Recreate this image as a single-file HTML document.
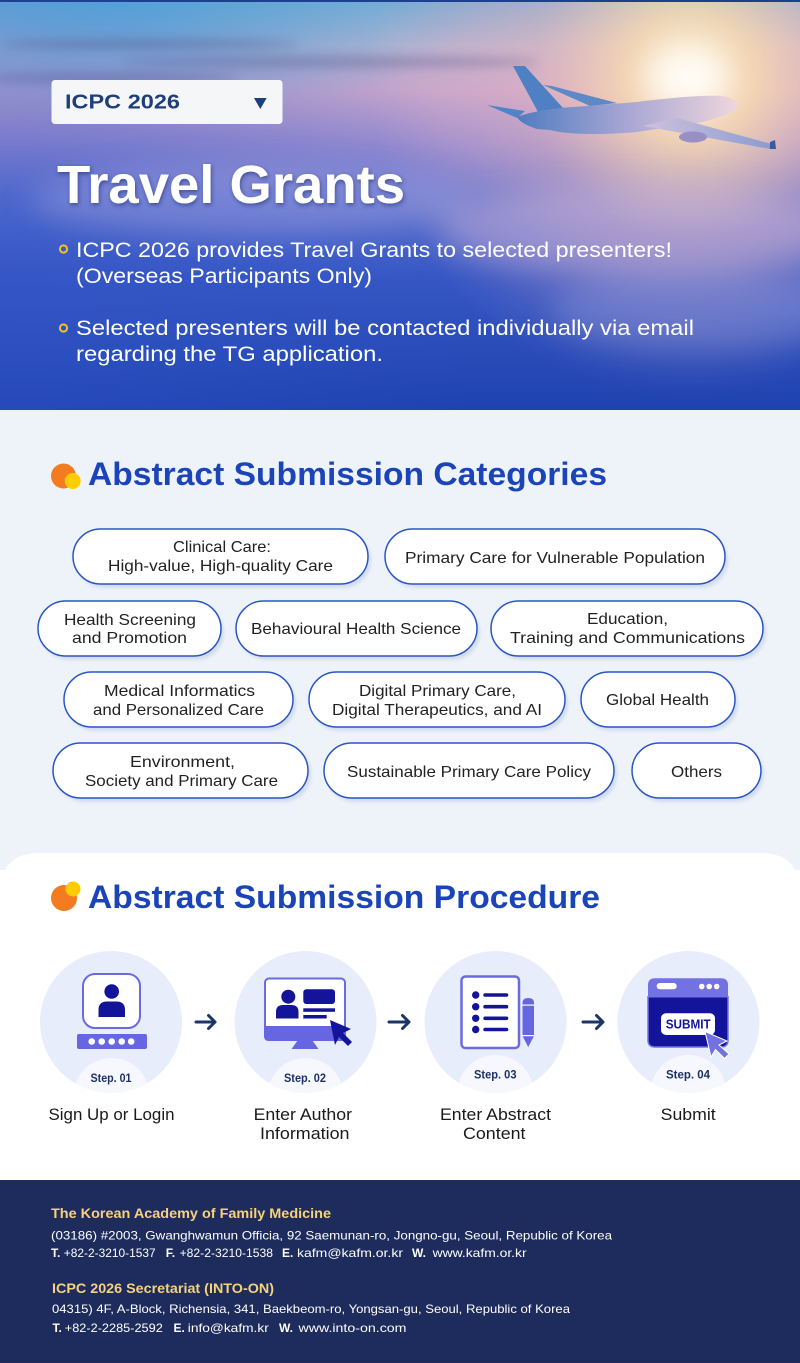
<!DOCTYPE html>
<html><head><meta charset="utf-8">
<style>
html,body{margin:0;padding:0;background:#fff;}
svg{display:block;}
text{font-family:"Liberation Sans",sans-serif;}
</style></head><body>
<svg width="800" height="1363" viewBox="0 0 800 1363" xmlns="http://www.w3.org/2000/svg">
<defs>
 <linearGradient id="sky" x1="0" y1="0" x2="0" y2="1">
  <stop offset="0" stop-color="#7aaad2"/>
  <stop offset="0.11" stop-color="#b4b2d0"/>
  <stop offset="0.22" stop-color="#c6a6cc"/>
  <stop offset="0.34" stop-color="#9c8fd0"/>
  <stop offset="0.48" stop-color="#6074cf"/>
  <stop offset="0.68" stop-color="#3557c4"/>
  <stop offset="1" stop-color="#1e42b0"/>
 </linearGradient>
 <radialGradient id="sun" cx="690" cy="78" r="320" gradientUnits="userSpaceOnUse">
  <stop offset="0" stop-color="#fff7e0" stop-opacity="1"/>
  <stop offset="0.2" stop-color="#fcdcb0" stop-opacity="0.85"/>
  <stop offset="0.5" stop-color="#f2b8b8" stop-opacity="0.4"/>
  <stop offset="1" stop-color="#e0a8c8" stop-opacity="0"/>
 </radialGradient>
 <radialGradient id="cyan" cx="120" cy="0" r="360" gradientUnits="userSpaceOnUse" gradientTransform="translate(0,0) scale(1,0.35)">
  <stop offset="0" stop-color="#4fb2de" stop-opacity="0.75"/>
  <stop offset="1" stop-color="#4fb2de" stop-opacity="0"/>
 </radialGradient>
 <radialGradient id="leftblue" cx="0" cy="300" r="480" gradientUnits="userSpaceOnUse">
  <stop offset="0" stop-color="#3254c8" stop-opacity="0.5"/>
  <stop offset="1" stop-color="#3254c8" stop-opacity="0"/>
 </radialGradient>
 <linearGradient id="fus" x1="517" y1="0" x2="737" y2="0" gradientUnits="userSpaceOnUse">
  <stop offset="0" stop-color="#4f7cc0"/>
  <stop offset="0.5" stop-color="#a8a6d4"/>
  <stop offset="1" stop-color="#eed6dc"/>
 </linearGradient>
 <linearGradient id="wing" x1="643" y1="0" x2="775" y2="0" gradientUnits="userSpaceOnUse">
  <stop offset="0" stop-color="#cfc2dc"/>
  <stop offset="1" stop-color="#8a9ad2"/>
 </linearGradient>
 <filter id="blur6" x="-50%" y="-200%" width="200%" height="500%"><feGaussianBlur stdDeviation="5"/></filter>
 <filter id="blur12" x="-50%" y="-100%" width="200%" height="300%"><feGaussianBlur stdDeviation="14"/></filter>
 <filter id="sh" x="-10%" y="-30%" width="120%" height="160%"><feGaussianBlur stdDeviation="1.5"/></filter>
 <filter id="tsh" x="-10%" y="-20%" width="120%" height="150%">
  <feDropShadow dx="1" dy="2" stdDeviation="2" flood-color="#1a2a70" flood-opacity="0.6"/>
 </filter>
 <clipPath id="hero"><rect x="0" y="0" width="800" height="410"/></clipPath>
 <clipPath id="c1"><circle cx="111" cy="1022" r="71"/></clipPath>
 <clipPath id="c2"><circle cx="305.5" cy="1022" r="71"/></clipPath>
 <clipPath id="c3"><circle cx="495.5" cy="1022" r="71"/></clipPath>
 <clipPath id="c4"><circle cx="688.5" cy="1022" r="71"/></clipPath>
</defs>

<!-- HERO -->
<g clip-path="url(#hero)">
<rect x="0" y="0" width="800" height="410" fill="url(#sky)"/>
<rect x="0" y="0" width="800" height="410" fill="url(#cyan)"/>
<rect x="0" y="0" width="800" height="410" fill="url(#leftblue)"/>
<rect x="0" y="0" width="800" height="410" fill="url(#sun)"/>
<g filter="url(#blur6)" opacity="0.35">
 <ellipse cx="150" cy="44" rx="150" ry="5" fill="#4f4c80"/>
 <ellipse cx="330" cy="62" rx="210" ry="6" fill="#5a5488"/>
 <ellipse cx="110" cy="78" rx="130" ry="5" fill="#4f4c80"/>
</g>
<g filter="url(#blur12)">
 <ellipse cx="640" cy="230" rx="200" ry="45" fill="#e0c0e0" opacity="0.35"/>
 <ellipse cx="250" cy="200" rx="220" ry="35" fill="#c8b8e8" opacity="0.3"/>
 <ellipse cx="700" cy="310" rx="150" ry="40" fill="#b0b8ea" opacity="0.25"/>
 <ellipse cx="687" cy="77" rx="40" ry="30" fill="#ffffff" opacity="0.7"/>
</g>
</g>
<rect x="0" y="0" width="800" height="2" fill="#1d3f8f"/>

<!-- plane -->
<path d="M543,85 L552,86 L617,103 L590,106 Z" fill="#5f88c6"/>
<path d="M513,66 L525,66 L563,108 L538,112 Z" fill="#4f80c4"/>
<path d="M487,105 L525,111 L517,118 Z" fill="#5084c8"/>
<path d="M517,117 C530,112 545,110 560,108 L637,102 C670,98 700,95 722,96 C732,97 738,102 737,107 C735,112 728,115 703,122 L637,132 C600,135 570,135 550,130 L537,129 C525,125 519,121 517,117 Z" fill="url(#fus)"/>
<path d="M643,126 L677,118 L775,145 L770,149 Z" fill="url(#wing)"/>
<ellipse cx="693" cy="137" rx="14" ry="5.5" fill="#9890c4"/>
<path d="M770,142 L775,140 L776,149 L770,149 Z" fill="#3a5aa0"/>

<!-- dropdown -->
<rect x="51.5" y="80" width="231" height="44" rx="3.5" fill="#f5f6f8"/>
<text x="65" y="108.5" font-size="20" font-weight="bold" fill="#1f3f7a" textLength="115" lengthAdjust="spacingAndGlyphs">ICPC 2026</text>
<polygon points="254,98 266.7,98 260.3,109" fill="#1f3f7a"/>

<!-- title -->
<text x="57" y="203" font-size="54" font-weight="bold" fill="#ffffff" filter="url(#tsh)" textLength="348" lengthAdjust="spacingAndGlyphs">Travel Grants</text>

<!-- bullets -->
<circle cx="63.5" cy="249" r="3.6" fill="none" stroke="#f3c320" stroke-width="2"/>
<circle cx="63.5" cy="328" r="3.6" fill="none" stroke="#f3c320" stroke-width="2"/>
<g fill="#ffffff" font-size="21">
 <text x="76" y="257" textLength="596" lengthAdjust="spacingAndGlyphs">ICPC 2026 provides Travel Grants to selected presenters!</text>
 <text x="76" y="283" textLength="296" lengthAdjust="spacingAndGlyphs">(Overseas Participants Only)</text>
 <text x="76" y="335" textLength="618" lengthAdjust="spacingAndGlyphs">Selected presenters will be contacted individually via email</text>
 <text x="76" y="361" textLength="307" lengthAdjust="spacingAndGlyphs">regarding the TG application.</text>
</g>

<!-- CATEGORIES SECTION -->
<rect x="0" y="410" width="800" height="460" fill="#eef3fa"/>
<circle cx="63.5" cy="476" r="12.5" fill="#f47b20"/>
<circle cx="72.7" cy="481" r="8" fill="#ffcc00"/>
<text x="88" y="485" font-size="32" font-weight="bold" fill="#1b44b8" textLength="519" lengthAdjust="spacingAndGlyphs">Abstract Submission Categories</text>

<!-- pill shadows -->
<g fill="#d3ddee" filter="url(#sh)">
 <rect x="76" y="533" width="295" height="55" rx="27.5"/>
 <rect x="388" y="533" width="340" height="55" rx="27.5"/>
 <rect x="41" y="605" width="183" height="55" rx="27.5"/>
 <rect x="239" y="605" width="241" height="55" rx="27.5"/>
 <rect x="494" y="605" width="272" height="55" rx="27.5"/>
 <rect x="67" y="676" width="229" height="55" rx="27.5"/>
 <rect x="312" y="676" width="256" height="55" rx="27.5"/>
 <rect x="584" y="676" width="154" height="55" rx="27.5"/>
 <rect x="56" y="747" width="255" height="55" rx="27.5"/>
 <rect x="327" y="747" width="290" height="55" rx="27.5"/>
 <rect x="635" y="747" width="129" height="55" rx="27.5"/>
</g>
<g fill="#ffffff" stroke="#2a55c8" stroke-width="1.5">
 <rect x="73" y="529" width="295" height="55" rx="27.5"/>
 <rect x="385" y="529" width="340" height="55" rx="27.5"/>
 <rect x="38" y="601" width="183" height="55" rx="27.5"/>
 <rect x="236" y="601" width="241" height="55" rx="27.5"/>
 <rect x="491" y="601" width="272" height="55" rx="27.5"/>
 <rect x="64" y="672" width="229" height="55" rx="27.5"/>
 <rect x="309" y="672" width="256" height="55" rx="27.5"/>
 <rect x="581" y="672" width="154" height="55" rx="27.5"/>
 <rect x="53" y="743" width="255" height="55" rx="27.5"/>
 <rect x="324" y="743" width="290" height="55" rx="27.5"/>
 <rect x="632" y="743" width="129" height="55" rx="27.5"/>
</g>
<g fill="#222222" font-size="16">
 <text x="173" y="552" textLength="98" lengthAdjust="spacingAndGlyphs">Clinical Care:</text>
 <text x="108" y="571" textLength="225" lengthAdjust="spacingAndGlyphs">High-value, High-quality Care</text>
 <text x="405" y="563" textLength="300" lengthAdjust="spacingAndGlyphs">Primary Care for Vulnerable Population</text>
 <text x="64" y="625" textLength="132" lengthAdjust="spacingAndGlyphs">Health Screening</text>
 <text x="72" y="643" textLength="115" lengthAdjust="spacingAndGlyphs">and Promotion</text>
 <text x="251" y="634" textLength="210" lengthAdjust="spacingAndGlyphs">Behavioural Health Science</text>
 <text x="587" y="624" textLength="81" lengthAdjust="spacingAndGlyphs">Education,</text>
 <text x="510" y="643" textLength="235" lengthAdjust="spacingAndGlyphs">Training and Communications</text>
 <text x="104" y="696" textLength="151" lengthAdjust="spacingAndGlyphs">Medical Informatics</text>
 <text x="93" y="715" textLength="171" lengthAdjust="spacingAndGlyphs">and Personalized Care</text>
 <text x="359" y="696" textLength="157" lengthAdjust="spacingAndGlyphs">Digital Primary Care,</text>
 <text x="332" y="715" textLength="210" lengthAdjust="spacingAndGlyphs">Digital Therapeutics, and AI</text>
 <text x="606" y="705" textLength="103" lengthAdjust="spacingAndGlyphs">Global Health</text>
 <text x="130" y="767" textLength="105" lengthAdjust="spacingAndGlyphs">Environment,</text>
 <text x="85" y="786" textLength="193" lengthAdjust="spacingAndGlyphs">Society and Primary Care</text>
 <text x="347" y="777" textLength="244" lengthAdjust="spacingAndGlyphs">Sustainable Primary Care Policy</text>
 <text x="671" y="777" textLength="51" lengthAdjust="spacingAndGlyphs">Others</text>
</g>

<!-- PROCEDURE SECTION -->
<path d="M0,893 Q0,853 40,853 L760,853 Q800,853 800,893 L800,1180 L0,1180 Z" fill="#ffffff"/>
<circle cx="64" cy="898" r="13" fill="#f47b20"/>
<circle cx="73" cy="889" r="7.5" fill="#ffcc00"/>
<text x="88" y="908" font-size="32" font-weight="bold" fill="#1b44b8" textLength="512" lengthAdjust="spacingAndGlyphs">Abstract Submission Procedure</text>

<!-- circles -->
<g fill="#e7edfb">
 <circle cx="111" cy="1022" r="71"/>
 <circle cx="305.5" cy="1022" r="71"/>
 <circle cx="495.5" cy="1022" r="71"/>
 <circle cx="688.5" cy="1022" r="71"/>
</g>
<g fill="#f6f8fe">
 <circle cx="111.5" cy="1096" r="38" clip-path="url(#c1)"/>
 <circle cx="305.5" cy="1096" r="38" clip-path="url(#c2)"/>
 <circle cx="495.5" cy="1093" r="38" clip-path="url(#c3)"/>
 <circle cx="688.5" cy="1093" r="38" clip-path="url(#c4)"/>
</g>
<g font-size="12" font-weight="bold" fill="#1e3066">
 <text x="90.5" y="1082" textLength="41" lengthAdjust="spacingAndGlyphs">Step. 01</text>
 <text x="284" y="1082" textLength="42" lengthAdjust="spacingAndGlyphs">Step. 02</text>
 <text x="474" y="1078.5" textLength="42.5" lengthAdjust="spacingAndGlyphs">Step. 03</text>
 <text x="666" y="1078.5" textLength="44" lengthAdjust="spacingAndGlyphs">Step. 04</text>
</g>

<!-- arrows -->
<g stroke="#1d3566" stroke-width="3" fill="none" stroke-linecap="round" stroke-linejoin="round">
 <path d="M196,1022 H215 M208.5,1015.5 L215,1022 L208.5,1028.5"/>
 <path d="M389,1022 H409 M402.5,1015.5 L409,1022 L402.5,1028.5"/>
 <path d="M583,1022 H603 M596.5,1015.5 L603,1022 L596.5,1028.5"/>
</g>

<!-- icon 1 -->
<rect x="83" y="974" width="57" height="54" rx="12" fill="#ffffff" stroke="#6b6be0" stroke-width="2"/>
<circle cx="111.7" cy="991.5" r="7.3" fill="#14149a"/>
<path d="M98.5,1017 L98.5,1010 Q98.5,1001.5 107,1001.5 L116.5,1001.5 Q125,1001.5 125,1010 L125,1017 Z" fill="#14149a"/>
<rect x="77" y="1034" width="70" height="15" rx="2" fill="#6666e0"/>
<g fill="#ffffff">
 <circle cx="91.7" cy="1041.5" r="3.3"/>
 <circle cx="101.7" cy="1041.5" r="3.3"/>
 <circle cx="111.7" cy="1041.5" r="3.3"/>
 <circle cx="121.7" cy="1041.5" r="3.3"/>
 <circle cx="131.2" cy="1041.5" r="3.3"/>
</g>

<!-- icon 2 -->
<rect x="265" y="978.5" width="80" height="61.5" rx="4" fill="#ffffff" stroke="#6b6be0" stroke-width="2"/>
<path d="M264,1026 H346 V1036 Q346,1041 341,1041 H269 Q264,1041 264,1036 Z" fill="#6666e0"/>
<path d="M298,1040 H312 L318.5,1049 H291.5 Z" fill="#6666e0"/>
<circle cx="288.3" cy="996.7" r="7" fill="#14149a"/>
<path d="M276,1018.5 V1012 Q276,1005 283,1005 H291.5 Q298.5,1005 298.5,1012 V1018.5 Z" fill="#14149a"/>
<rect x="303.3" y="989.3" width="31.7" height="14.7" rx="3" fill="#14149a"/>
<rect x="303.3" y="1008.3" width="31.7" height="3.5" fill="#14149a"/>
<rect x="303.3" y="1015" width="23.4" height="3.5" fill="#14149a"/>
<path d="M330,1020 L351,1029 L343,1033 L352,1042 L348,1046 L339,1037 L335,1045 Z" fill="#14149a"/>

<!-- icon 3 -->
<rect x="461.5" y="976.5" width="57.5" height="71.5" rx="4" fill="#ffffff" stroke="#6b6be0" stroke-width="2.5"/>
<g fill="#14149a">
 <circle cx="475.7" cy="995" r="3.7"/>
 <circle cx="475.7" cy="1006.7" r="3.7"/>
 <circle cx="475.7" cy="1018.3" r="3.7"/>
 <circle cx="475.7" cy="1029.5" r="3.7"/>
 <rect x="483.3" y="993.2" width="25" height="3.6" rx="1.8"/>
 <rect x="483.3" y="1004.9" width="25" height="3.6" rx="1.8"/>
 <rect x="483.3" y="1016.5" width="25" height="3.6" rx="1.8"/>
 <rect x="483.3" y="1027.7" width="25" height="3.6" rx="1.8"/>
</g>
<path d="M522.5,1003 Q522.5,998 528.2,998 Q534,998 534,1003 V1036 L528.2,1047 L522.5,1036 Z" fill="#6666e0"/>
<rect x="522.5" y="1004.5" width="11.5" height="1.2" fill="#ffffff"/>
<rect x="522.5" y="1035" width="11.5" height="1.2" fill="#ffffff"/>

<!-- icon 4 -->
<path d="M648,996.7 V985 Q648,978.3 655,978.3 H721 Q728,978.3 728,985 V996.7 Z" fill="#7272e2"/>
<path d="M648,996.7 H728 V1040 Q728,1047 721,1047 H655 Q648,1047 648,1040 Z" fill="#14149a" stroke="#7272e2" stroke-width="1.5"/>
<rect x="656.7" y="983" width="20" height="6.3" rx="3" fill="#ffffff"/>
<g fill="#ffffff">
 <circle cx="701.7" cy="986.5" r="2.8"/>
 <circle cx="709.2" cy="986.5" r="2.8"/>
 <circle cx="716.7" cy="986.5" r="2.8"/>
</g>
<rect x="661" y="1013.3" width="54" height="21.7" rx="5" fill="#ffffff"/>
<text x="665.7" y="1028.3" font-size="12.5" font-weight="bold" fill="#14149a" textLength="45" lengthAdjust="spacingAndGlyphs">SUBMIT</text>
<path d="M705,1031.5 L727,1041 L719,1045 L729,1054 L724.5,1058.5 L715.5,1049.5 L711,1057 Z" fill="#7272e2" stroke="#ffffff" stroke-width="1"/>

<!-- step labels -->
<g font-size="16.5" fill="#1a1a1a">
 <text x="48.5" y="1120" textLength="126" lengthAdjust="spacingAndGlyphs">Sign Up or Login</text>
 <text x="253.6" y="1120" textLength="98.4" lengthAdjust="spacingAndGlyphs">Enter Author</text>
 <text x="260" y="1139" textLength="89.5" lengthAdjust="spacingAndGlyphs">Information</text>
 <text x="440" y="1120" textLength="111" lengthAdjust="spacingAndGlyphs">Enter Abstract</text>
 <text x="463" y="1139" textLength="62.5" lengthAdjust="spacingAndGlyphs">Content</text>
 <text x="660.7" y="1120" textLength="55" lengthAdjust="spacingAndGlyphs">Submit</text>
</g>

<!-- FOOTER -->
<rect x="0" y="1180" width="800" height="183" fill="#1d2b5d"/>
<g font-size="14" font-weight="bold" fill="#f6d27a">
 <text x="51" y="1218" textLength="280" lengthAdjust="spacingAndGlyphs">The Korean Academy of Family Medicine</text>
 <text x="52" y="1293" textLength="222" lengthAdjust="spacingAndGlyphs">ICPC 2026 Secretariat (INTO-ON)</text>
</g>
<g font-size="12" fill="#ffffff">
 <text x="51" y="1239.5" textLength="561" lengthAdjust="spacingAndGlyphs">(03186) #2003, Gwanghwamun Officia, 92 Saemunan-ro, Jongno-gu, Seoul, Republic of Korea</text>
 <text x="52" y="1313" textLength="518" lengthAdjust="spacingAndGlyphs">04315) 4F, A-Block, Richensia, 341, Baekbeom-ro, Yongsan-gu, Seoul, Republic of Korea</text>
 <text x="51" y="1257" font-weight="bold">T.</text>
 <text x="63.8" y="1257" textLength="91.8" lengthAdjust="spacingAndGlyphs">+82-2-3210-1537</text>
 <text x="165.8" y="1257" font-weight="bold">F.</text>
 <text x="179.6" y="1257" textLength="93.4" lengthAdjust="spacingAndGlyphs">+82-2-3210-1538</text>
 <text x="282" y="1257" font-weight="bold">E.</text>
 <text x="297" y="1257" textLength="106" lengthAdjust="spacingAndGlyphs">kafm@kafm.or.kr</text>
 <text x="412" y="1257" font-weight="bold">W.</text>
 <text x="432.6" y="1257" textLength="94" lengthAdjust="spacingAndGlyphs">www.kafm.or.kr</text>
 <text x="52.5" y="1332" font-weight="bold">T.</text>
 <text x="64.8" y="1332" textLength="98" lengthAdjust="spacingAndGlyphs">+82-2-2285-2592</text>
 <text x="173.5" y="1332" font-weight="bold">E.</text>
 <text x="187.8" y="1332" textLength="81" lengthAdjust="spacingAndGlyphs">info@kafm.kr</text>
 <text x="279" y="1332" font-weight="bold">W.</text>
 <text x="298.5" y="1332" textLength="108" lengthAdjust="spacingAndGlyphs">www.into-on.com</text>
</g>
</svg>
</body></html>
